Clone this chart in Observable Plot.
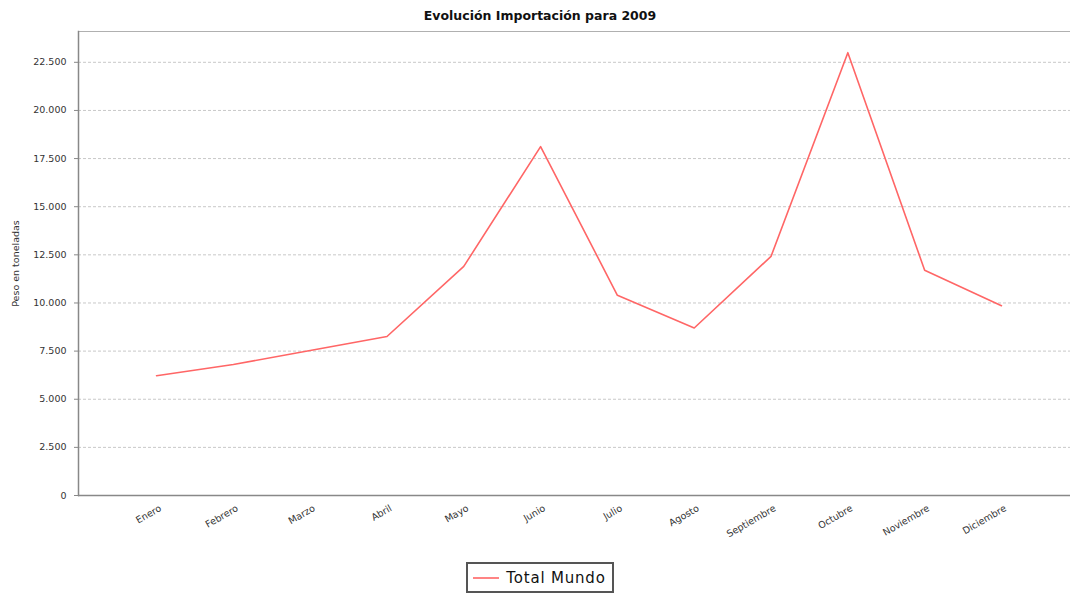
<!DOCTYPE html>
<html>
<head>
<meta charset="utf-8">
<script src="https://cdn.jsdelivr.net/npm/d3@7"></script>
<script src="https://cdn.jsdelivr.net/npm/@observablehq/plot@0.6"></script>
<style>
  html, body { margin: 0; padding: 0; background: #fff; overflow: hidden; }
  #wrap { width: 1080px; position: relative; font-family: "DejaVu Sans", sans-serif; }
  #title { height: 25px; text-align: center; font-weight: bold; font-size: 12.5px; line-height: 15px; box-sizing: border-box; padding-top: 8px; color: #111; }
  #chart svg { max-width: none !important; display: block; }
  #legend { text-align: center; margin-top: 7px; }
  #legend .box { display: inline-flex; align-items: center; border: 2px solid #555; padding: 3px 6px 3px 5px; height: 31px; box-sizing: border-box; font-size: 15px; color: #111; letter-spacing: 0.8px; }
  #legend svg { margin-right: 7px; }
</style>
</head>
<body>
<div id="wrap">
  <div id="title">Evolución Importación para 2009</div>
  <div id="chart"></div>
  <div id="legend"></div>
</div>
<script>
const months = ["Enero","Febrero","Marzo","Abril","Mayo","Junio","Julio","Agosto","Septiembre","Octubre","Noviembre","Diciembre"];
const values = [6220, 6800, 7530, 8260, 11900, 18120, 10400, 8700, 12420, 23000, 11700, 9860];
const yTicks = [0, 2500, 5000, 7500, 10000, 12500, 15000, 17500, 20000, 22500];
const seriesName = "Total Mundo";
const lineColor = "#ff6666";

const data = months.map((m, i) => ({month: m, value: values[i], series: seriesName}));
const esFmt = d3.formatLocale({decimal: ",", thousands: ".", grouping: [3], currency: ["", "€"]}).format(",d");

const chart = Plot.plot({
  width: 1080,
  height: 530,
  marginTop: 6,
  marginBottom: 60,
  marginLeft: 78,
  marginRight: 1,
  style: {fontFamily: "DejaVu Sans, sans-serif", fontSize: "9.5px", color: "#333", background: "#fff", maxWidth: "none"},
  x: {type: "point", domain: months, padding: 1.016, round: false},
  y: {domain: [0, 24100]},
  marks: [
    Plot.frame({anchor: "top", stroke: "#b0b0b0", strokeWidth: 1}),
    Plot.gridY(yTicks, {stroke: "#c8c8c8", strokeOpacity: 1, strokeDasharray: "3,2"}),
    Plot.axisY(yTicks, {tickFormat: esFmt, tickSize: 4, tickPadding: 8, stroke: "#888", label: "Peso en toneladas", labelAnchor: "center", labelArrow: "none", labelOffset: 66, fontSize: 9.5}),
    Plot.axisX({tickRotate: -30, tickSize: 0, tickPadding: 12, dx: 4, label: null, fontSize: 9.5}),
    Plot.frame({anchor: "left", stroke: "#888", strokeWidth: 1.5}),
    Plot.ruleY([0], {stroke: "#888", strokeWidth: 1.5}),
    Plot.line(data, {x: "month", y: "value", stroke: lineColor, strokeWidth: 1.6})
  ]
});
document.getElementById("chart").appendChild(chart);

const leg = document.getElementById("legend");
leg.innerHTML = `<span class="box"><svg width="26" height="10"><line x1="0" x2="26" y1="5" y2="5" stroke="${lineColor}" stroke-width="1.6"/></svg>${seriesName}</span>`;
</script>
</body>
</html>
